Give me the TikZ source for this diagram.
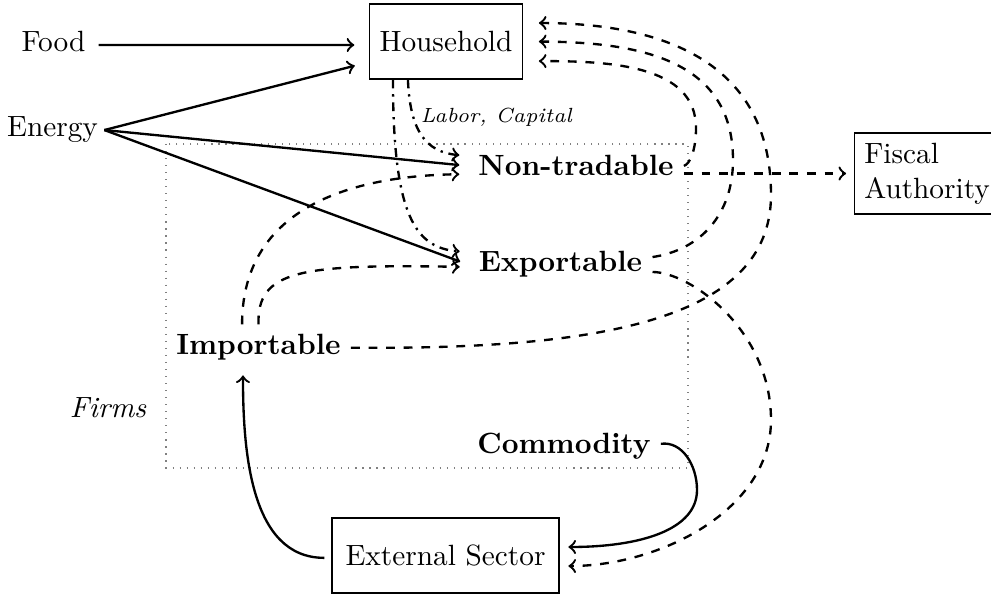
\documentclass[tikz,border=0pt]{standalone}
\begin{document}
\begin{tikzpicture}[x=0.3413pt,y=-0.3413pt,
  box/.style={draw, thin, minimum height=25.6pt, inner sep=3.33pt},
  sector/.style={font=\bfseries, anchor=base},
  plain/.style={anchor=base},
  link/.style={thick,->},
  flow/.style={thick,->,dashed},
  factor/.style={thick,->,dash dot},
  firmsbox/.style={draw=gray,dotted},
]
\useasboundingbox (0,0) rectangle (991,597);
% nodes
\node[box, minimum width=51.9pt] (hh) at (446,41.5) {Household};
\node[box, minimum width=77.5pt] (ext) at (445.5,555.5) {External Sector};
\node[box, anchor=west, align=left] (fa) at (854,173.5) {Fiscal\\Authority};
\node[plain] (food) at (53.5,52) {Food};
\node[plain, inner sep=2pt] (energy) at (52.5,137) {Energy};
\node[sector] (nt) at (576,176) {Non-tradable};
\node[sector] (exp) at (560.5,272) {Exportable};
\node[sector] (imp) at (258.5,355) {Importable};
\node[sector] (com) at (564,454) {Commodity};
\node[plain, font=\itshape] (firms) at (108,418) {Firms};
\node[anchor=base west, inner sep=0pt, font=\scriptsize\itshape] (labcap) at (420,123) {Labor, Capital};
% firms frame
\draw[firmsbox] (166,144) rectangle (688,468);
% inputs to household and firms
\draw[link, shorten <=1pt, shorten >=5.1pt] ([yshift=-1pt]food.east) -- ([yshift=-1.2pt]hh.west);
\draw[link, shorten >=5.1pt] (energy.east) -- ([yshift=-7pt]hh.west);
\draw[link, shorten >=3pt] (energy.east) -- (nt.west);
\draw[link, shorten >=3pt] (energy.east) -- (exp.west);
% labor, capital
\draw[factor, shorten >=3pt] ([xshift=-13pt]hh.south) .. controls (410,130) and (425,152) .. ([yshift=3.4pt]nt.west);
\draw[factor, shorten >=3pt] ([xshift=-18.1pt]hh.south) .. controls (393,215) and (415,248) .. ([yshift=4.3pt]exp.west);
% importable to firms
\draw[flow, shorten >=3pt] ([xshift=-5.6pt]imp.north) .. controls (242,220) and (330,176) .. ([yshift=-2.8pt]nt.west);
\draw[flow, shorten >=3pt] (imp.north) .. controls (257,270) and (300,264) .. ([yshift=-0.8pt]exp.west);
% goods to household
\draw[flow, shorten >=5.5pt] (imp.east) .. controls (600,350) and (771,320) .. (771,195) .. controls (771,60) and (660,23) .. ([yshift=6.3pt]hh.east);
\draw[flow, shorten >=5.5pt] ([yshift=2.6pt]exp.east) .. controls (700,250) and (733,215) .. (733,160) .. controls (733,60) and (640,42) .. (hh.east);
\draw[flow, shorten >=5.5pt] (nt.east) .. controls (690,164) and (696,150) .. (696,128) .. controls (696,65) and (610,61) .. ([yshift=-6.7pt]hh.east);
% fiscal
\draw[flow, shorten >=2.7pt] (nt.east |- fa.west) -- (fa.west);
% external
\draw[flow, shorten >=3pt] ([yshift=-2.5pt]exp.east) .. controls (690,272) and (771,330) .. (771,420) .. controls (771,510) and (660,566) .. ([yshift=-3.6pt]ext.east);
\draw[link, shorten >=3pt] ([yshift=1pt]com.east) .. controls (682,441) and (697,465) .. (697,490) .. controls (697,530) and (640,547) .. ([yshift=2.9pt]ext.east);
\draw[link, shorten <=2.4pt, shorten >=1.5pt] ([yshift=-0.8pt]ext.west) .. controls (250,558) and (243,450) .. ([xshift=-5.3pt]imp.south);
\end{tikzpicture}
\end{document}
